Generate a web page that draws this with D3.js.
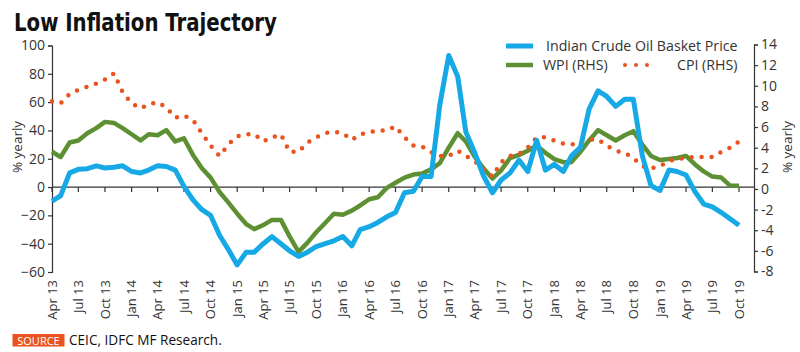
<!DOCTYPE html>
<html>
<head>
<meta charset="utf-8">
<script src="https://cdnjs.cloudflare.com/ajax/libs/d3/7.8.5/d3.min.js"></script>
<style>
body { margin: 0; background: #fff; }
text { font-family: "Open Sans", sans-serif; }
</style>
</head>
<body>
<div id="chart"></div>
<script>
// monthly series, Apr 2013 .. Oct 2019
var crude = [-10, -6, 10, 12.5, 13, 15, 13.5, 14, 15, 11,
             10, 12, 15, 14.5, 12, 0.5, -9, -16, -20, -34,
             -44, -55, -46, -46, -40, -35, -40, -45, -49, -46,
             -42, -40, -38, -35, -41.5, -30, -28, -25, -21, -18,
             -4, -3, 7.5, 7.5, 58, 93, 78, 39, 24, 8,
             -4, 5, 10, 19, 11, 33, 12, 16, 11, 22,
             28, 55, 68, 64, 57, 62, 62, 22, 1, -2.4,
             12, 11, 8.5, -3, -12, -14, -18, -22.5, -27];
var wpi = [3.6, 3.1, 4.5, 4.7, 5.4, 5.9, 6.5, 6.4, 5.9, 5.3,
           4.7, 5.3, 5.2, 5.7, 4.6, 4.9, 3.3, 2.0, 1.1, -0.3,
           -1.3, -2.4, -3.4, -3.9, -3.5, -3.0, -3.0, -4.6, -6.1, -5.2,
           -4.2, -3.3, -2.4, -2.5, -2.1, -1.6, -1.0, -0.8, 0.1, 0.6,
           1.1, 1.4, 1.5, 1.9, 2.5, 4.0, 5.4, 4.6, 3.1, 2.0,
           1.0, 1.8, 3.0, 3.3, 3.7, 4.2, 3.5, 2.9, 2.6, 2.6,
           3.6, 4.7, 5.7, 5.2, 4.7, 5.2, 5.6, 4.3, 3.2, 2.8,
           2.9, 3.0, 3.2, 2.4, 1.7, 1.2, 1.1, 0.3, 0.3];
var cpi = [8.5, 8.3, 9.2, 9.6, 9.9, 10.2, 10.6, 11.2, 9.4, 8.3,
           7.8, 8.2, 8.4, 7.9, 6.9, 7.1, 6.7, 5.4, 4.2, 3.2,
           4.3, 5.1, 5.3, 5.3, 4.6, 5.0, 5.3, 3.6, 3.6, 4.5,
           5.0, 5.4, 5.55, 5.4, 4.75, 5.3, 5.5, 5.66, 5.66, 6.05,
           5.0, 4.2, 4.1, 3.55, 3.2, 3.2, 3.7, 3.2, 2.7, 1.9,
           1.2, 2.6, 3.2, 3.4, 4.0, 5.0, 5.0, 4.7, 4.4, 4.3,
           4.6, 4.8, 4.8, 4.2, 3.7, 3.5, 3.0, 2.2, 2.0, 2.2,
           2.7, 2.9, 3.0, 3.1, 3.1, 3.1, 3.6, 4.0, 4.6];
var tickLabels = ["Apr 13", "Jul 13", "Oct 13", "Jan 14", "Apr 14", "Jul 14", "Oct 14",
                  "Jan 15", "Apr 15", "Jul 15", "Oct 15", "Jan 16", "Apr 16", "Jul 16",
                  "Oct 16", "Jan 17", "Apr 17", "Jul 17", "Oct 17", "Jan 18", "Apr 18",
                  "Jul 18", "Oct 18", "Jan 19", "Apr 19", "Jul 19", "Oct 19"];
var leftTicks = [100, 80, 60, 40, 20, 0, -20, -40, -60];
var rightTicks = [14, 12, 10, 8, 6, 4, 2, 0, -2, -4, -6, -8];

var w = 800, h = 352;
var axisLeftX = 52, axisRightX = 754;

var months = d3.timeMonth.range(new Date(2013, 3, 1), new Date(2019, 10, 1));
var tickDates = months.filter(function(d, i) { return i % 3 === 0; });

var x = d3.scaleTime()
          .domain([months[0], months[months.length - 1]])
          .range([52, 739]);
var yL = d3.scaleLinear().domain([-60, 100]).range([272, 45.5]);
var yR = d3.scaleLinear().domain([-8, 14]).range([271.5, 44.5]);

var svg = d3.select("#chart").append("svg")
            .attr("width", w)
            .attr("height", h);

// title
svg.append("text")
   .attr("x", 14).attr("y", 31)
   .attr("textLength", 263).attr("lengthAdjust", "spacingAndGlyphs")
   .style("font-family", "'Liberation Sans Narrow', 'DejaVu Sans Condensed', sans-serif")
   .style("font-weight", "bold").style("font-size", "24px").style("fill", "#111")
   .text("Low Inflation Trajectory");

// axes
var axL = svg.append("g")
             .attr("transform", "translate(" + axisLeftX + ",0)")
             .call(d3.axisLeft(yL).tickValues(leftTicks).tickSize(4).tickPadding(3));
var axR = svg.append("g")
             .attr("transform", "translate(" + axisRightX + ",0)")
             .call(d3.axisRight(yR).tickValues(rightTicks).tickSize(4).tickPadding(3)
                   .tickFormat(function(d) { return d; }));
[axL, axR].forEach(function(g) {
    g.selectAll("path, line").attr("stroke", "#333").attr("stroke-width", 1.2);
    g.selectAll("text").style("font-size", "14px").style("fill", "#333")
     .style("font-family", "'Open Sans', sans-serif");
});

// zero line + quarterly ticks
svg.append("line")
   .attr("x1", axisLeftX).attr("x2", axisRightX)
   .attr("y1", yL(0)).attr("y2", yL(0))
   .attr("stroke", "#333").attr("stroke-width", 1.2);
svg.selectAll("line.xtick")
   .data(tickDates)
   .enter().append("line")
   .attr("class", "xtick")
   .attr("x1", function(d) { return x(d); }).attr("x2", function(d) { return x(d); })
   .attr("y1", yL(0)).attr("y2", yL(0) + 5)
   .attr("stroke", "#333").attr("stroke-width", 1.2);
svg.selectAll("text.xlab")
   .data(tickDates)
   .enter().append("text")
   .attr("class", "xlab")
   .attr("transform", function(d) { return "translate(" + x(d) + ",280) rotate(-90)"; })
   .attr("dy", "0.35em")
   .attr("text-anchor", "end")
   .style("font-size", "13px").style("fill", "#333")
   .text(function(d, i) { return tickLabels[i]; });

// axis titles
svg.append("text")
   .attr("transform", "translate(17,147) rotate(-90)")
   .attr("dy", "0.35em").attr("text-anchor", "middle")
   .style("font-size", "13.5px").style("fill", "#333")
   .text("% yearly");
svg.append("text")
   .attr("transform", "translate(787,147) rotate(-90)")
   .attr("dy", "0.35em").attr("text-anchor", "middle")
   .style("font-size", "13.5px").style("fill", "#333")
   .text("% yearly");

// lines
var lineL = d3.line()
              .x(function(d, i) { return x(months[i]); })
              .y(function(d) { return yL(d); });
var lineR = d3.line()
              .x(function(d, i) { return x(months[i]); })
              .y(function(d) { return yR(d); });

svg.append("path")
   .datum(wpi)
   .attr("d", lineR)
   .attr("fill", "none").attr("stroke", "#5d9032").attr("stroke-width", 4.5)
   .attr("stroke-linejoin", "round");
svg.append("path")
   .datum(cpi)
   .attr("d", lineR)
   .attr("fill", "none").attr("stroke", "#e8531f").attr("stroke-width", 4.5)
   .attr("stroke-linecap", "round").attr("stroke-dasharray", "0,10");
svg.append("path")
   .datum(crude)
   .attr("d", lineL)
   .attr("fill", "none").attr("stroke", "#16a9e6").attr("stroke-width", 5)
   .attr("stroke-linejoin", "round");

// legend
var legend = svg.append("g");
legend.append("line")
      .attr("x1", 506).attr("x2", 533).attr("y1", 46).attr("y2", 46)
      .attr("stroke", "#16a9e6").attr("stroke-width", 5);
legend.append("text")
      .attr("x", 546).attr("y", 51)
      .style("font-size", "14.2px").style("fill", "#333")
      .text("Indian Crude Oil Basket Price");
legend.append("line")
      .attr("x1", 506).attr("x2", 533).attr("y1", 65).attr("y2", 65)
      .attr("stroke", "#5d9032").attr("stroke-width", 4.5);
legend.append("text")
      .attr("x", 543).attr("y", 70)
      .style("font-size", "14.2px").style("fill", "#333")
      .text("WPI (RHS)");
legend.append("line")
      .attr("x1", 625).attr("x2", 658).attr("y1", 65).attr("y2", 65)
      .attr("stroke", "#e8531f").attr("stroke-width", 4)
      .attr("stroke-linecap", "round").attr("stroke-dasharray", "0,11");
legend.append("text")
      .attr("x", 677).attr("y", 70)
      .style("font-size", "14.2px").style("fill", "#333")
      .text("CPI (RHS)");

// source
svg.append("rect")
   .attr("x", 12.5).attr("y", 334).attr("width", 52).attr("height", 12.5)
   .attr("fill", "#e8531f");
svg.append("text")
   .attr("x", 38.5).attr("y", 344.5).attr("text-anchor", "middle")
   .style("font-size", "11px").style("fill", "#fff")
   .text("SOURCE");
svg.append("text")
   .attr("x", 69).attr("y", 344.5)
   .style("font-size", "13.6px").style("fill", "#111")
   .text("CEIC, IDFC MF Research.");
</script>
</body>
</html>
